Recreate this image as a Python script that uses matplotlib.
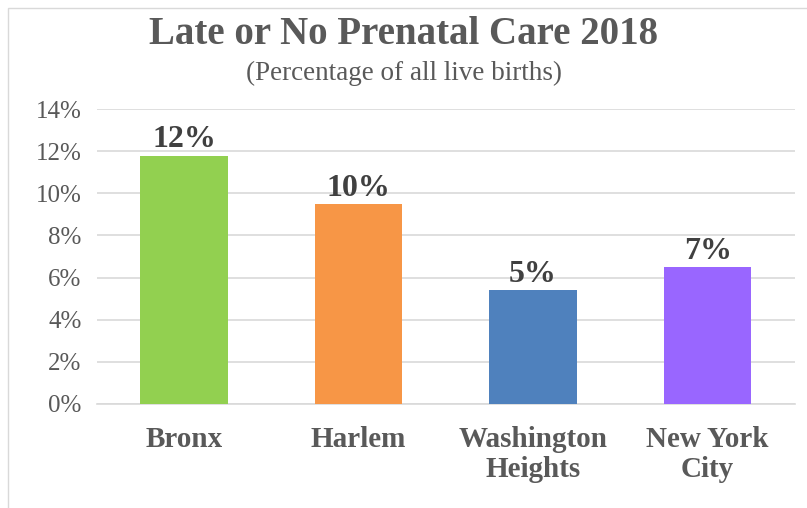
"""
Late or no prenatal care, 2018: bar chart by area.
"""

import matplotlib.pyplot as plt
from matplotlib.patches import Rectangle
from matplotlib.ticker import PercentFormatter

AREAS = ["Bronx", "Harlem", "Washington\nHeights", "New York\nCity"]
SHARE = [11.8, 9.5, 5.4, 6.5]
LABELS = ["12%", "10%", "5%", "7%"]
COLORS = ["#92D050", "#F79646", "#4F81BD", "#9966FF"]

TEXT = "#595959"
FONT = "Liberation Serif"

fig = plt.figure(figsize=(8.07, 5.08), dpi=100)
ax = fig.add_axes([0.12, 0.205, 0.865, 0.58])

x = range(len(AREAS))
bars = ax.bar(x, SHARE, width=0.5, color=COLORS, zorder=3)

for bar, label in zip(bars, LABELS):
    ax.text(
        bar.get_x() + bar.get_width() / 2,
        bar.get_height() + 0.05,
        label,
        ha="center",
        va="bottom",
        fontsize=23,
        fontweight="bold",
        color="#404040",
        family=FONT,
    )

ax.set_ylim(0, 14)
ax.set_xlim(-0.5, 3.5)
ax.set_yticks(range(0, 15, 2))
ax.yaxis.set_major_formatter(PercentFormatter(decimals=0))
ax.set_xticks(list(x))
ax.set_xticklabels(AREAS, fontsize=21, fontweight="bold", color=TEXT, family=FONT,
                   linespacing=1.15)
for lbl in ax.get_yticklabels():
    lbl.set_fontsize(18)
    lbl.set_color(TEXT)
    lbl.set_family(FONT)

ax.tick_params(axis="both", length=0)
ax.tick_params(axis="x", pad=16)
ax.tick_params(axis="y", pad=11)
ax.grid(axis="y", color="#D9D9D9", linewidth=1.2, zorder=0)
for side in ("top", "right", "left"):
    ax.spines[side].set_visible(False)
ax.spines["bottom"].set_color("#D9D9D9")
ax.spines["bottom"].set_linewidth(1.2)

fig.text(0.5, 0.932, "Late or No Prenatal Care 2018", ha="center", va="center",
         fontsize=28, fontweight="bold", color=TEXT, family=FONT)
fig.text(0.5, 0.856, "(Percentage of all live births)", ha="center", va="center",
         fontsize=19.5, color=TEXT, family=FONT)

fig.patches.append(Rectangle((0.01, -0.01), 1.0, 0.995, transform=fig.transFigure,
                             fill=False, edgecolor="#D9D9D9", linewidth=1.0))

fig.savefig("out.png", dpi=100)
